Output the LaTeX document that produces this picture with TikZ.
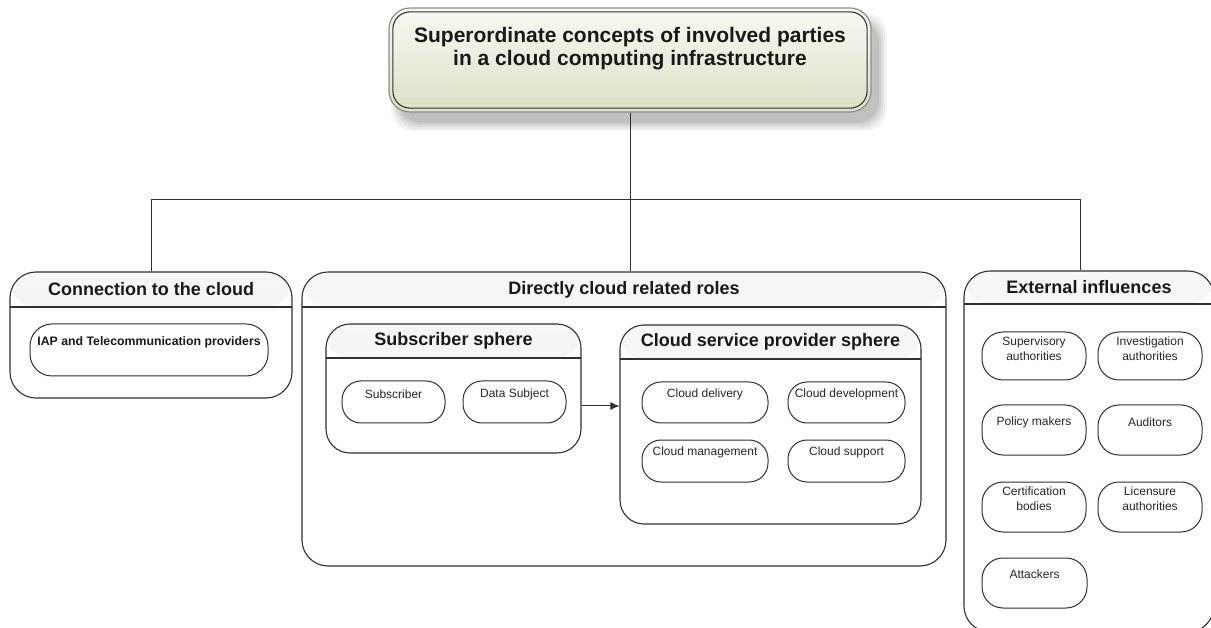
\documentclass[tikz,border=0pt]{standalone}
\usepackage{fontspec}
\setmainfont{Liberation Sans}
\usetikzlibrary{arrows.meta,calc}

\definecolor{linec}{HTML}{303030}
\definecolor{topfillA}{HTML}{F8F9F2}
\definecolor{topfillB}{HTML}{DCE1C6}
\definecolor{headA}{HTML}{F7F7F5}
\definecolor{headB}{HTML}{ECECE8}
\definecolor{shadowc}{HTML}{9A9A9A}

\tikzset{
  wire/.style={draw=linec, line width=1pt},
  container/.style={draw=linec, line width=1.1pt, rounded corners=26pt, fill=white,
    inner sep=0pt,
    path picture={
      \shade[top color=headA, bottom color=headB]
        (path picture bounding box.north west) rectangle
        ([yshift=-#1]path picture bounding box.north east);
      \draw[linec, line width=1.1pt]
        ([yshift=-#1]path picture bounding box.north west) --
        ([yshift=-#1]path picture bounding box.north east);
    }},
  pill/.style={draw=linec, line width=1pt, rounded corners=19pt, fill=white, inner sep=0pt},
  bigpill/.style={draw=linec, line width=1pt, rounded corners=21pt, fill=white, inner sep=0pt},
  headtitle/.style={font=\fontsize{18}{21}\selectfont\bfseries, text=black!90, inner sep=0pt},
  itemtext/.style={font=\fontsize{12}{15}\selectfont, text=black!85, align=center, inner sep=0pt},
  boldtext/.style={font=\fontsize{12.3}{14}\selectfont\bfseries, text=black!90, inner sep=0pt},
}

\begin{document}
\begin{tikzpicture}[x=1pt,y=-1pt]
  \useasboundingbox (0,0) rectangle (1211,628);
  \fill[white] (0,0) rectangle (1211,628);
  \clip (0,0) rectangle (1211,628);

  % soft shadow behind the title box
  \foreach \g/\o in {7/0.10,5/0.12,3/0.15,1/0.2,-1/0.25} {
    \fill[shadowc, opacity=\o, rounded corners=22pt]
      (398-\g,20-\g) rectangle (880+\g,124+\g);
  }

  % title box with double outline
  \node[draw=black!45, line width=1.2pt, rounded corners=21pt,
        top color=topfillA, bottom color=topfillB,
        minimum width=482pt, minimum height=104pt, inner sep=0pt]
        (top) at (630,60) {};
  \draw[linec, line width=1.1pt, rounded corners=17pt]
    ([shift={(4.5pt,-4.5pt)}]top.north west) rectangle ([shift={(-4.5pt,4.5pt)}]top.south east);
  \node[font=\fontsize{21}{23.5}\selectfont\bfseries, align=center, text=black!90]
    (toptext) at (630,48.5) {Superordinate concepts of involved parties\\in a cloud computing infrastructure};

  % the three main groups
  \node[container=35pt, minimum width=282pt, minimum height=126pt] (conn) at (151,335) {};
  \node[container=35pt, minimum width=644pt, minimum height=294pt] (dir) at (624,419) {};
  \node[container=33pt, minimum width=250pt, minimum height=361pt] (ext) at (1089,451.5) {};

  \node[headtitle] (conntitle) at (151,289.5) {Connection to the cloud};
  \node[headtitle] (dirtitle) at (624,289.5) {Directly cloud related roles};
  \node[headtitle] (exttitle) at (1089,287.5) {External influences};

  % tree connectors
  \coordinate (busR) at (1080,200);
  \draw[wire] (top.south) -- (top.south |- dir.north);
  \draw[wire] (conn.north) |- (busR) -- (busR |- ext.north);

  % connection to the cloud
  \node[bigpill, minimum width=238pt, minimum height=52pt, rounded corners=22pt] (iap) at (149,350) {};
  \node[boldtext] (iaptext) at ([yshift=-18.5pt]iap.north) {IAP and Telecommunication providers};

  % subscriber sphere
  \node[container=34pt, rounded corners=24pt, minimum width=255pt, minimum height=129pt] (subs) at (453.5,388.5) {};
  \node[headtitle] (substitle) at (453.5,341) {Subscriber sphere};
  \node[pill, minimum width=103pt, minimum height=42pt] (subscr) at (393.5,402) {};
  \node[pill, minimum width=103pt, minimum height=42pt] (dsubj) at (514.5,402) {};
  \node[itemtext] at ([yshift=-14pt]subscr.north) {Subscriber};
  \node[itemtext] at ([yshift=-14pt]dsubj.north) {Data Subject};

  % cloud service provider sphere
  \node[container=34pt, rounded corners=24pt, minimum width=301pt, minimum height=199pt] (csp) at (770.5,424.5) {};
  \node[headtitle] (csptitle) at (770.5,341.5) {Cloud service provider sphere};
  \node[pill, minimum width=126pt, minimum height=41pt] (deliv) at (705,402.5) {};
  \node[pill, minimum width=117pt, minimum height=41pt] (devel) at (846.5,402.5) {};
  \node[pill, minimum width=126pt, minimum height=42pt] (manag) at (705,461) {};
  \node[pill, minimum width=117pt, minimum height=42pt] (suppo) at (846.5,461) {};
  \node[itemtext] at ([yshift=-13pt]deliv.north) {Cloud delivery};
  \node[itemtext] at ([yshift=-13pt]devel.north) {Cloud development};
  \node[itemtext] at ([yshift=-13pt]manag.north) {Cloud management};
  \node[itemtext] at ([yshift=-13pt]suppo.north) {Cloud support};

  \draw[wire, -{Latex[length=9pt,width=8pt]}]
    ([yshift=-17.5pt]subs.east) -- ([yshift=-17.5pt]subs.east -| csp.west);

  % external influences
  \node[bigpill, minimum width=104pt, minimum height=48pt] (superv) at (1034,356) {};
  \node[bigpill, minimum width=104pt, minimum height=48pt] (invest) at (1150,356) {};
  \node[bigpill, minimum width=104pt, minimum height=50pt] (policy) at (1034,430) {};
  \node[bigpill, minimum width=104pt, minimum height=50pt] (audit) at (1150,430) {};
  \node[bigpill, minimum width=104pt, minimum height=50pt] (certif) at (1034,507) {};
  \node[bigpill, minimum width=104pt, minimum height=50pt] (licens) at (1150,507) {};
  \node[bigpill, minimum width=105pt, minimum height=50pt] (attack) at (1034.5,583) {};
  \node[itemtext] at ([yshift=-17.5pt]superv.north) {Supervisory\\authorities};
  \node[itemtext] at ([yshift=-17.5pt]invest.north) {Investigation\\authorities};
  \node[itemtext] at ([yshift=-18pt]policy.north) {Policy makers};
  \node[itemtext] at ([yshift=-18pt]audit.north) {Auditors};
  \node[itemtext] at ([yshift=-17.5pt]certif.north) {Certification\\bodies};
  \node[itemtext] at ([yshift=-17.5pt]licens.north) {Licensure\\authorities};
  \node[itemtext] at ([yshift=-17pt]attack.north) {Attackers};
\end{tikzpicture}
\end{document}
